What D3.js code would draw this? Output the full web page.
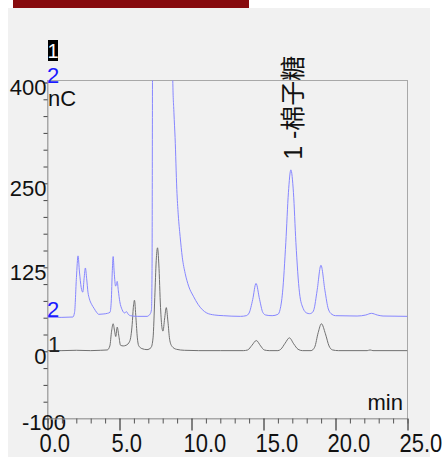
<!DOCTYPE html>
<html>
<head>
<meta charset="utf-8">
<script src="https://cdn.jsdelivr.net/npm/d3@7"></script>
<style>
  html, body { margin: 0; padding: 0; background: #fff; }
  svg { display: block; }
  text { font-family: "Liberation Sans", Arial, "Noto Sans CJK SC", sans-serif; }
</style>
</head>
<body>
<div id="chart"></div>
<script>
// Trace 1 (black): [time min, nC]
const series1 = [[0,1],[1,1],[2,1.5],[3,1],[3.7,1.5],[4.15,2],[4.33,8],[4.45,30],[4.56,41],[4.66,30],
    [4.74,22],[4.84,36],[4.96,22],[5.07,9],[5.26,8],[5.46,9],[5.71,15],[5.88,40],[5.96,65],[6.04,76],
    [6.14,50],[6.24,20],[6.33,8.5],[6.56,4],[6.91,2.5],[7.19,5.5],[7.33,20],[7.45,80],[7.55,135],[7.64,154],
    [7.73,130],[7.85,65],[7.95,35],[8.02,30],[8.13,48],[8.25,65],[8.36,45],[8.48,18],[8.64,7.5],[8.95,3],
    [9.5,1.5],[10.5,1],[12,1],[13.6,1],[13.9,2],[14.2,9],[14.5,16],[14.8,8],[15.05,2],[15.4,1],
    [16,1],[16.2,3],[16.5,12],[16.8,20],[17.1,11],[17.4,3],[17.7,1],[18.3,1],[18.55,6],[18.8,28],
    [19.02,41],[19.3,26],[19.55,8],[19.8,2],[20.2,1],[22.2,1],[22.4,2],[22.6,1],[25,1]];

// Trace 2 (blue), as drawn with its offset: [time min, nC]
const series2 = [[0,50.5],[1,50.5],[1.76,51],[1.88,58],[2.01,110],[2.12,142],[2.22,118],[2.34,95],[2.45,88],[2.54,108],
    [2.63,124],[2.72,108],[2.81,88],[2.91,78],[3.06,70],[3.23,64],[3.41,58],[3.56,55],[3.86,55.5],[4.16,56.5],
    [4.34,58],[4.43,75],[4.5,120],[4.56,141],[4.63,118],[4.73,97],[4.79,100],[4.84,104],[4.92,90],[5.02,74],
    [5.18,62],[5.36,57],[5.48,59],[5.61,55],[5.76,53],[6.26,52],[6.91,52],[7.14,56],[7.22,62],[7.26,120],
    [7.29,400],[7.33,900],[7.45,1600],[8.0,2500],[8.4,1500],[8.55,800],[8.7,404],[8.78,355],[8.86,318],[8.98,241],
    [9.08,203],[9.21,171],[9.36,140],[9.56,116],[9.8,97],[10.13,82],[10.45,70],[10.75,62],[11.06,57],[11.6,54],
    [12.21,53],[13.4,52],[13.8,53],[14.0,57],[14.25,77],[14.48,101],[14.73,77],[14.95,58],[15.15,54],[15.6,53],
    [16.0,55],[16.15,62],[16.32,87],[16.55,162],[16.73,236],[16.9,270],[17.08,236],[17.25,162],[17.5,87],[17.75,64],
    [18.0,57],[18.2,56],[18.35,57],[18.5,62],[18.72,90],[18.99,128],[19.27,90],[19.5,63],[19.75,55],[20.0,53],
    [21.5,52.5],[22.1,54],[22.5,56.5],[22.9,54],[23.3,52.5],[25,52]];

const xTickLabels = ["0.0", "5.0", "10.0", "15.0", "20.0", "25.0"];
const yTickLabels = [-100, 0, 125, 250, 400];
const peakName = "1 -棉子糖";
const peakTime = 16.9;
const peakValue = 270;

const width = 442;
const height = 457;
const plotLeft = 47.5, plotRight = 407.5, plotTop = 80.5, plotBottom = 418.5;

const svg = d3.select("#chart")
    .append("svg")
        .attr("width", width)
        .attr("height", height);

// window background and the red strip at the top
svg.append("rect").attr("x", 8).attr("y", 8).attr("width", 422).attr("height", 449).attr("fill", "#f1f1f1");
svg.append("rect").attr("x", 13).attr("y", 0).attr("width", 236).attr("height", 8).attr("fill", "#870b0e");

const x = d3.scaleLinear().domain([0, 25]).range([plotLeft, plotRight]);
const y = d3.scaleLinear().domain([-100, 400]).range([plotBottom, 82.5]);

svg.append("clipPath").attr("id", "plot")
    .append("rect")
        .attr("x", plotLeft).attr("y", plotTop)
        .attr("width", plotRight - plotLeft).attr("height", plotBottom - plotTop);

// frame
svg.append("rect")
    .attr("x", plotLeft).attr("y", plotTop)
    .attr("width", plotRight - plotLeft).attr("height", plotBottom - plotTop)
    .attr("fill", "none")
    .attr("stroke", "#a8a8a8");

// y axis
const yAxis = svg.append("g")
    .attr("transform", `translate(${plotLeft},0)`)
    .call(d3.axisLeft(y)
        .tickValues(d3.range(-100, 401, 25))
        .tickSize(4)
        .tickPadding(-3)
        .tickFormat(d => yTickLabels.includes(d) ? d : ""));
yAxis.select(".domain").attr("stroke", "#a8a8a8");
yAxis.selectAll(".tick line").attr("stroke", "#444");
yAxis.selectAll(".tick text")
    .attr("font-size", 22)
    .attr("font-family", "Liberation Sans, Arial, sans-serif")
    .attr("fill", "#111")
    .attr("dy", "0.55em");
yAxis.selectAll(".tick text").filter(d => d === -100)
    .attr("text-anchor", "start")
    .attr("x", -25.5)
    .attr("dy", "0.5em");

// x axis
const xAxis = svg.append("g")
    .attr("transform", `translate(0,${plotBottom})`)
    .call(d3.axisBottom(x)
        .tickValues(d3.range(0, 26, 1))
        .tickSize(5)
        .tickFormat(d => d % 5 === 0 ? xTickLabels[d / 5] : ""));
xAxis.select(".domain").attr("stroke", "#a8a8a8");
xAxis.selectAll(".tick line")
    .attr("stroke", d => d % 5 === 0 ? "#111" : "#555")
    .attr("y2", d => d % 5 === 0 ? 12 : 5);
xAxis.selectAll(".tick text")
    .attr("font-size", 22)
    .attr("font-family", "Liberation Sans, Arial, sans-serif")
    .attr("fill", "#111")
    .attr("text-anchor", "start")
    .attr("y", null)
    .attr("dy", null)
    .attr("transform", "translate(-8.5,33.5) scale(1,1.15)");

// traces
const line = d3.line()
    .x(d => x(d[0]))
    .y(d => y(d[1]))
    .curve(d3.curveMonotoneX);

const traces = svg.append("g").attr("clip-path", "url(#plot)");
traces.append("path")
    .datum(series1)
    .attr("d", line)
    .attr("fill", "none")
    .attr("stroke", "#707070")
    .attr("stroke-width", 1);
traces.append("path")
    .datum(series2)
    .attr("d", line)
    .attr("fill", "none")
    .attr("stroke", "#8686ff")
    .attr("stroke-width", 1);

// unit labels
svg.append("text").attr("x", 48).attr("y", 106).attr("font-size", 22).attr("fill", "#111").text("nC");
svg.append("text").attr("x", 403).attr("y", 410).attr("font-size", 22).attr("fill", "#111")
    .attr("text-anchor", "end").text("min");

// trace legend at top left
svg.append("rect").attr("x", 48).attr("y", 40).attr("width", 10).attr("height", 21).attr("fill", "#000");
svg.append("text").attr("x", 53).attr("y", 58).attr("font-size", 20).attr("fill", "#fff")
    .attr("text-anchor", "middle").text("1");
svg.append("text").attr("x", 47).attr("y", 83).attr("font-size", 22).attr("fill", "#1a1aff").text("2");

// trace numbers at the start of each baseline
svg.append("text").attr("x", 47).attr("y", y(series2[0][1])).attr("font-size", 22).attr("fill", "#1a1aff").text("2");
svg.append("text").attr("x", 48).attr("y", y(series1[0][1]) + 1).attr("font-size", 22).attr("fill", "#222").text("1");

// peak name
svg.append("text")
    .attr("transform", `translate(${x(peakTime) + 11},${y(peakValue) - 10}) rotate(-90)`)
    .attr("font-size", 25)
    .attr("font-family", "Liberation Sans, Noto Sans CJK SC, sans-serif")
    .attr("fill", "#111")
    .text(peakName);
</script>
</body>
</html>
